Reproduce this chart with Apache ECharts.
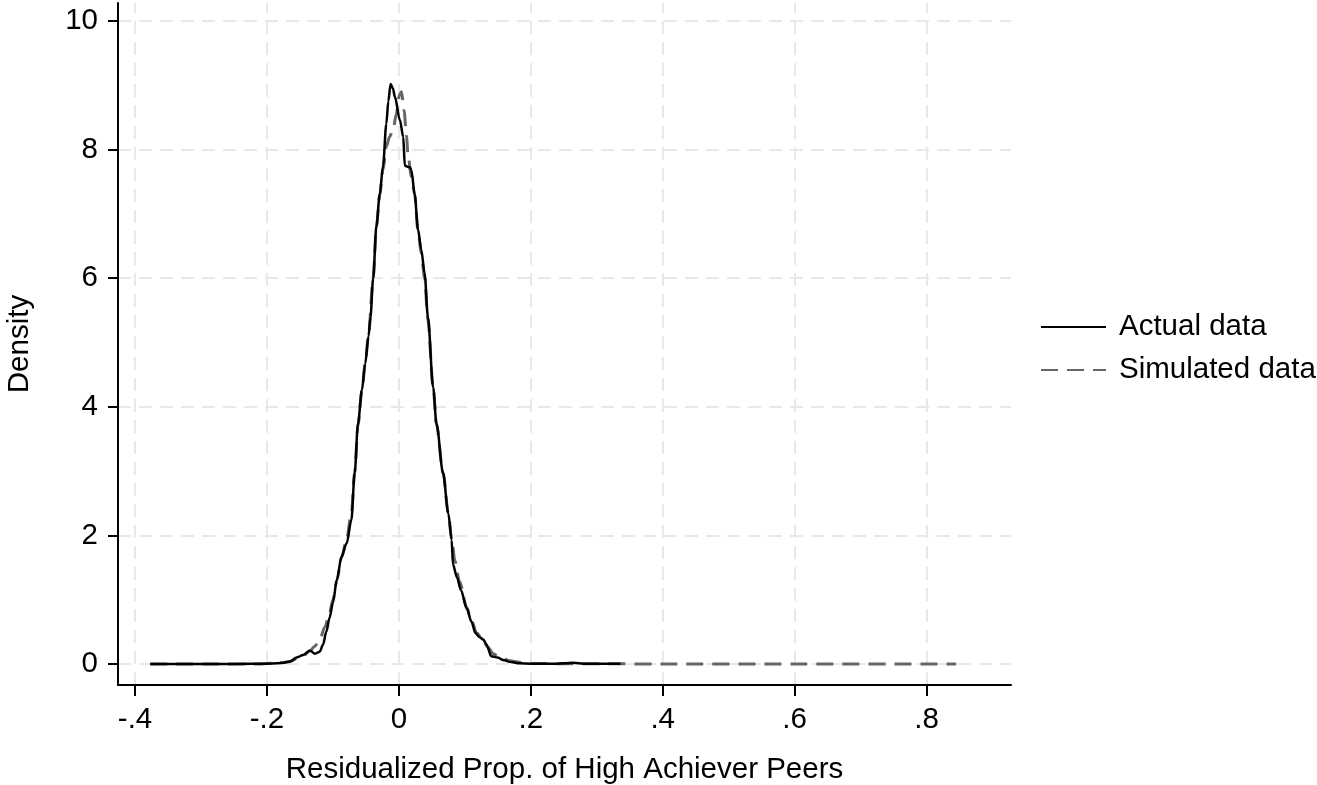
<!DOCTYPE html>
<html>
<head>
<meta charset="utf-8">
<script src="https://cdn.jsdelivr.net/npm/echarts@6/dist/echarts.min.js"></script>
<style>html,body{margin:0;padding:0;background:#fff;}#c{width:1317px;height:785px;}</style>
</head>
<body>
<div id="c"></div>
<script>
// Tick labels
const xTicks = [-0.4, -0.2, 0, 0.2, 0.4, 0.6, 0.8];
const yTicks = [0, 2, 4, 6, 8, 10];

// Actual data (kernel density)
const actualX = [-0.377,-0.30,-0.25,-0.20,-0.185,-0.175,-0.165,-0.155,-0.145,-0.135,-0.127,-0.120,-0.115,-0.110,-0.105,-0.100,-0.094,-0.087,-0.079,-0.072,-0.067,-0.062,-0.056,-0.051,-0.046,-0.043,-0.039,-0.034,-0.029,-0.024,-0.019,-0.016,-0.0126,-0.009,-0.006,0.0015,0.0066,0.009,0.0167,0.019,0.024,0.029,0.034,0.039,0.044,0.052,0.057,0.067,0.075,0.080,0.082,0.088,0.094,0.103,0.110,0.116,0.122,0.128,0.133,0.140,0.150,0.158,0.170,0.183,0.20,0.22,0.24,0.264,0.28,0.30,0.336];
const actualY = [0,0,0,0.005,0.01,0.02,0.04,0.10,0.14,0.21,0.16,0.19,0.30,0.50,0.72,0.95,1.31,1.67,1.88,2.24,2.97,3.74,4.26,4.67,5.10,5.40,6.00,6.82,7.30,7.75,8.40,8.75,9.02,8.95,8.82,8.46,8.20,7.75,7.72,7.68,7.30,6.76,6.44,6.08,5.40,4.30,3.74,2.97,2.34,1.93,1.55,1.35,1.15,0.86,0.66,0.48,0.42,0.38,0.30,0.12,0.10,0.06,0.03,0.01,0.005,0.002,0.005,0.02,0.005,0.003,0.002];

// Simulated data (kernel density)
const simX = [-0.377,-0.30,-0.22,-0.19,-0.175,-0.165,-0.155,-0.145,-0.135,-0.128,-0.120,-0.112,-0.105,-0.100,-0.094,-0.087,-0.079,-0.072,-0.067,-0.062,-0.056,-0.051,-0.046,-0.039,-0.034,-0.029,-0.024,-0.019,-0.014,-0.0085,-0.004,0.001,0.004,0.008,0.0116,0.014,0.019,0.024,0.029,0.034,0.039,0.044,0.052,0.057,0.067,0.075,0.080,0.085,0.092,0.103,0.110,0.118,0.128,0.135,0.143,0.153,0.168,0.183,0.20,0.25,0.30,0.40,0.60,0.845];
const simY = [0,0,0,0.01,0.02,0.04,0.08,0.13,0.20,0.27,0.38,0.58,0.80,1.00,1.30,1.65,1.95,2.35,2.97,3.70,4.25,4.68,5.12,6.00,6.80,7.30,7.70,8.05,8.20,8.32,8.55,8.85,8.90,8.60,8.20,7.90,7.58,7.30,6.74,6.40,6.00,5.35,4.30,3.72,2.97,2.35,1.95,1.60,1.28,0.88,0.68,0.48,0.36,0.26,0.16,0.10,0.05,0.025,0.012,0.004,0.002,0.001,0,0];

const FONT = 'Liberation Sans, Arial, sans-serif';
const FS = 29.5;
const zip = (a, b) => a.map((v, i) => [v, b[i]]);
const fmtX = v => {
  if (Math.abs(v) < 1e-9) return '0';
  return String(+(+v).toFixed(1)).replace(/^(-?)0\./, '$1.');
};

const chart = echarts.init(document.getElementById('c'), null, {renderer: 'canvas'});
chart.setOption({
  backgroundColor: '#fff',
  animation: false,
  textStyle: {fontFamily: FONT, color: '#000'},
  grid: {left: 118, right: 306, top: 3, bottom: 100, containLabel: false, outerBoundsMode: 'none'},
  legend: {
    orient: 'vertical',
    left: 1035,
    top: 307,
    itemWidth: 65,
    itemHeight: 12,
    itemGap: 13,
    itemStyle: {opacity: 0, borderWidth: 0},
    textStyle: {fontFamily: FONT, fontSize: FS, color: '#000', padding: [0, 0, 0, 8]},
    data: ['Actual data', 'Simulated data']
  },
  xAxis: {
    type: 'value',
    min: -0.4258,
    max: 0.928,
    name: 'Residualized Prop. of High Achiever Peers',
    nameLocation: 'middle',
    nameGap: 70,
    nameTextStyle: {fontFamily: FONT, fontSize: FS, color: '#000'},
    axisLine: {show: true, onZero: false, lineStyle: {color: '#000', width: 2}},
    axisTick: {show: true, inside: false, length: 11, customValues: xTicks, lineStyle: {color: '#000', width: 2}},
    axisLabel: {show: true, customValues: xTicks, margin: 20, fontSize: FS, color: '#000', fontFamily: FONT, formatter: fmtX},
    splitLine: {show: false}
  },
  yAxis: {
    type: 'value',
    min: -0.327,
    max: 10.28,
    name: 'Density',
    nameLocation: 'middle',
    nameGap: 83,
    nameRotate: 90,
    nameTextStyle: {fontFamily: FONT, fontSize: FS, color: '#000'},
    axisLine: {show: true, onZero: false, lineStyle: {color: '#000', width: 2}},
    axisTick: {show: true, inside: false, length: 10, customValues: yTicks, lineStyle: {color: '#000', width: 2}},
    axisLabel: {show: true, customValues: yTicks, margin: 20, fontSize: FS, color: '#000', fontFamily: FONT},
    splitLine: {show: false}
  },
  series: [
    {
      name: 'gridlines',
      type: 'line',
      data: [],
      z: 0,
      silent: true,
      markLine: {
        z: 0,
        silent: true,
        symbol: 'none',
        label: {show: false},
        animation: false,
        lineStyle: {color: '#e8e8e8', width: 2, type: [13, 8]},
        data: xTicks.map(v => ({xAxis: v})).concat(yTicks.map(v => ({yAxis: v})))
      }
    },
    {
      name: 'Simulated data',
      type: 'line',
      data: zip(simX, simY),
      showSymbol: false,
      symbol: 'none',
      smooth: 0.3,
      smoothMonotone: 'x',
      z: 2,
      lineStyle: {color: '#666666', width: 3, type: [17, 9]},
      itemStyle: {color: '#666666'}
    },
    {
      name: 'Actual data',
      type: 'line',
      data: zip(actualX, actualY),
      showSymbol: false,
      symbol: 'none',
      smooth: 0.3,
      smoothMonotone: 'x',
      z: 3,
      lineStyle: {color: '#000', width: 2.5},
      itemStyle: {color: '#000'}
    }
  ]
});
</script>
</body>
</html>
